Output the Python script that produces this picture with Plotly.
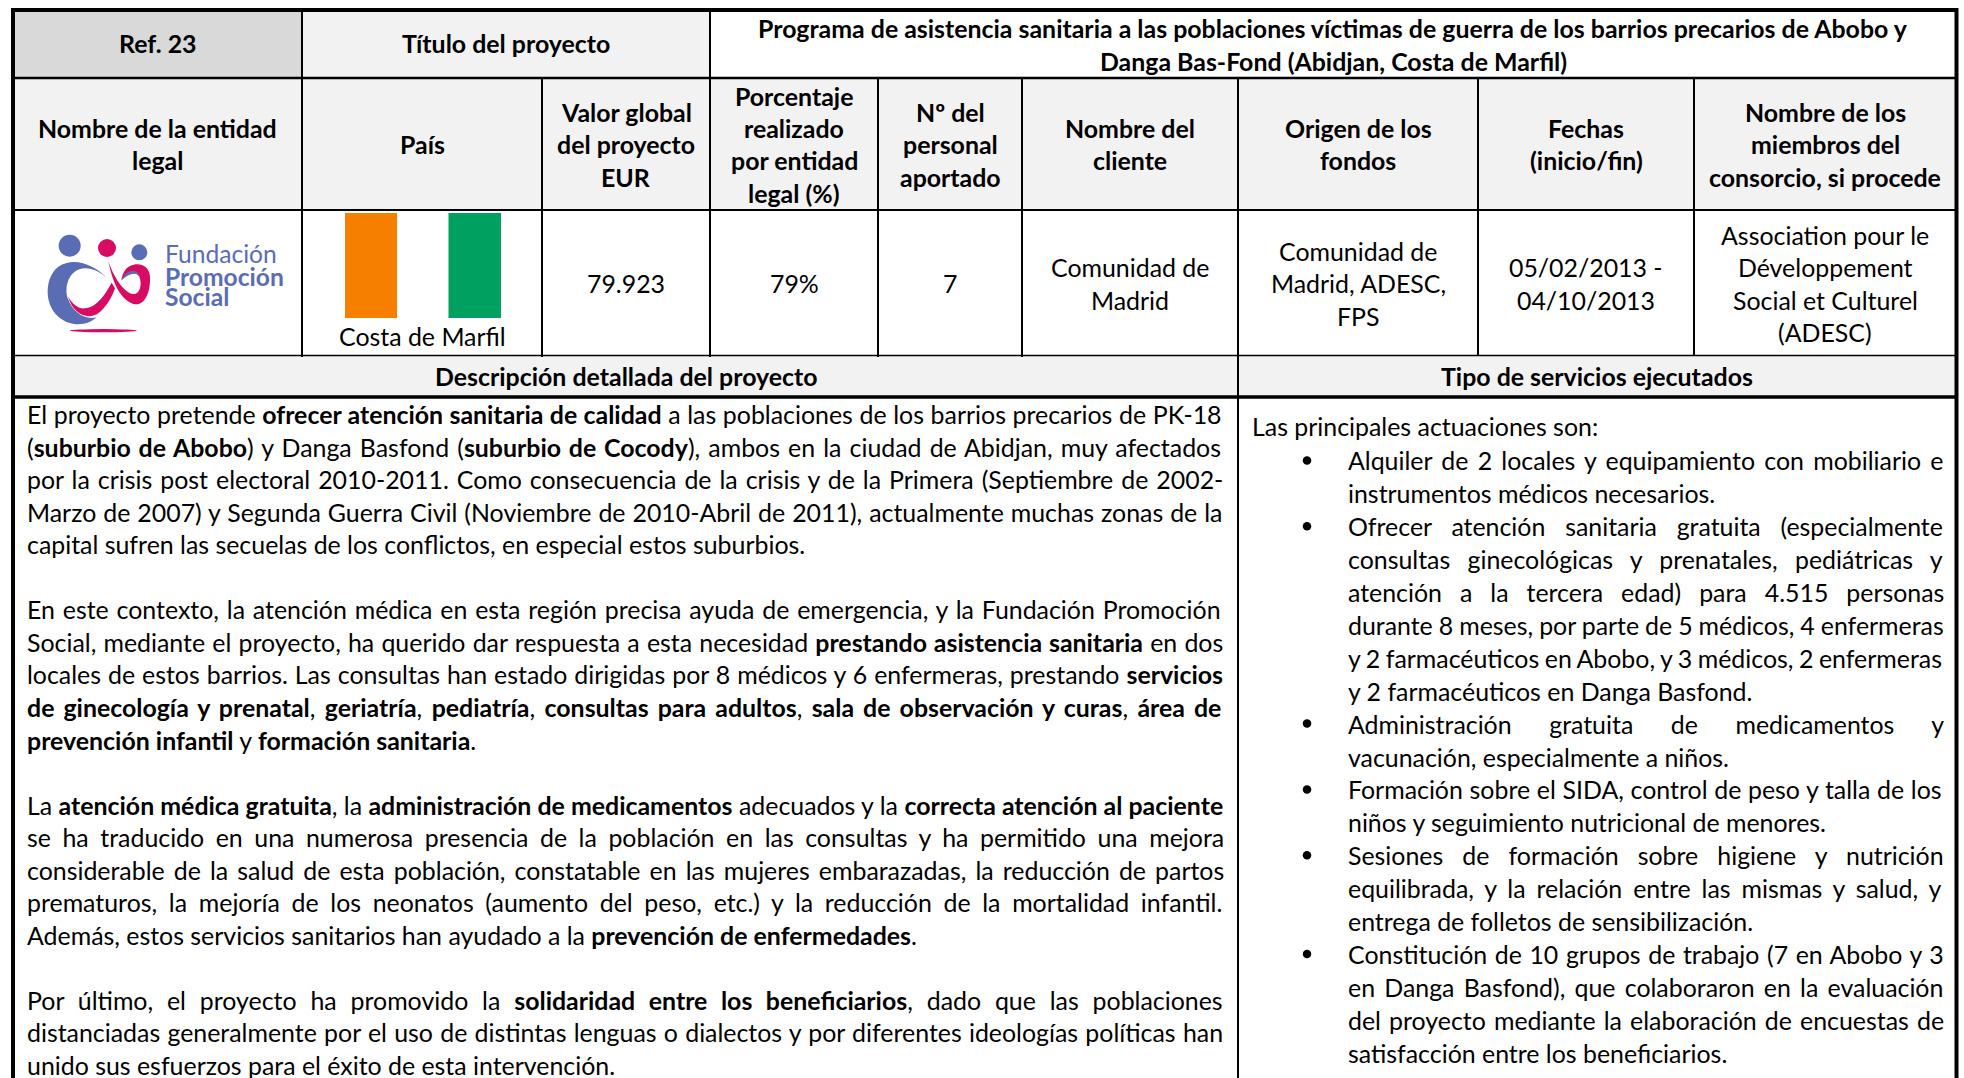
import re, struct, subprocess
import plotly.graph_objects as go

# ---------- content ----------
REF = "Ref. 23"
TITLE_LABEL = "Título del proyecto"
TITLE_LINES = ["Programa de asistencia sanitaria a las poblaciones víctimas de guerra de los barrios precarios de Abobo y",
               "Danga Bas-Fond (Abidjan, Costa de Marfil)"]
HEADERS = [["Nombre de la entidad", "legal"],
           ["País"],
           ["Valor global", "del proyecto", "EUR"],
           ["Porcentaje", "realizado", "por entidad", "legal (%)"],
           ["Nº del", "personal", "aportado"],
           ["Nombre del", "cliente"],
           ["Origen de los", "fondos"],
           ["Fechas", "(inicio/fin)"],
           ["Nombre de los", "miembros del", "consorcio, si procede"]]
VALUES = [[],
          [],
          ["79.923"],
          ["79%"],
          ["7"],
          ["Comunidad de", "Madrid"],
          ["Comunidad de", "Madrid, ADESC,", "FPS"],
          ["05/02/2013 -", "04/10/2013"],
          ["Association pour le", "Développement", "Social et Culturel", "(ADESC)"]]
COUNTRY = "Costa de Marfil"
LOGO_TEXT = ["Fundación", "Promoción", "Social"]
SEC_LEFT = "Descripción detallada del proyecto"
SEC_RIGHT = "Tipo de servicios ejecutados"

# (text, justified) - None marks an empty line
LEFT_BODY = [
    ("El proyecto pretende **ofrecer atención sanitaria de calidad** a las poblaciones de los barrios precarios de PK-18", True),
    ("(**suburbio de Abobo**) y Danga Basfond (**suburbio de Cocody**), ambos en la ciudad de Abidjan, muy afectados", True),
    ("por la crisis post electoral 2010-2011. Como consecuencia de la crisis y de la Primera (Septiembre de 2002-", True),
    ("Marzo de 2007) y Segunda Guerra Civil (Noviembre de 2010-Abril de 2011), actualmente muchas zonas de la", True),
    ("capital sufren las secuelas de los conflictos, en especial estos suburbios.", False),
    None,
    ("En este contexto, la atención médica en esta región precisa ayuda de emergencia, y la Fundación Promoción", True),
    ("Social, mediante el proyecto, ha querido dar respuesta a esta necesidad **prestando asistencia sanitaria** en dos", True),
    ("locales de estos barrios. Las consultas han estado dirigidas por 8 médicos y 6 enfermeras, prestando **servicios**", True),
    ("**de ginecología y prenatal**, **geriatría**, **pediatría**, **consultas para adultos**, **sala de observación y curas**, **área de**", True),
    ("**prevención infantil** y **formación sanitaria**.", False),
    None,
    ("La **atención médica gratuita**, la **administración de medicamentos** adecuados y la **correcta atención al paciente**", True),
    ("se ha traducido en una numerosa presencia de la población en las consultas y ha permitido una mejora", True),
    ("considerable de la salud de esta población, constatable en las mujeres embarazadas, la reducción de partos", True),
    ("prematuros, la mejoría de los neonatos (aumento del peso, etc.) y la reducción de la mortalidad infantil.", True),
    ("Además, estos servicios sanitarios han ayudado a la **prevención de enfermedades**.", False),
    None,
    ("Por último, el proyecto ha promovido la **solidaridad entre los beneficiarios**, dado que las poblaciones", True),
    ("distanciadas generalmente por el uso de distintas lenguas o dialectos y por diferentes ideologías políticas han", True),
    ("unido sus esfuerzos para el éxito de esta intervención.", False),
]
RIGHT_INTRO = "Las principales actuaciones son:"
# (text, justified, starts a bullet)
RIGHT_BODY = [
    ("Alquiler de 2 locales y equipamiento con mobiliario e", True, True),
    ("instrumentos médicos necesarios.", False, False),
    ("Ofrecer atención sanitaria gratuita (especialmente", True, True),
    ("consultas ginecológicas y prenatales, pediátricas y", True, False),
    ("atención a la tercera edad) para 4.515 personas", True, False),
    ("durante 8 meses, por parte de 5 médicos, 4 enfermeras", True, False),
    ("y 2 farmacéuticos en Abobo, y 3 médicos, 2 enfermeras", True, False),
    ("y 2 farmacéuticos en Danga Basfond.", False, False),
    ("Administración gratuita de medicamentos y", True, True),
    ("vacunación, especialmente a niños.", False, False),
    ("Formación sobre el SIDA, control de peso y talla de los", True, True),
    ("niños y seguimiento nutricional de menores.", False, False),
    ("Sesiones de formación sobre higiene y nutrición", True, True),
    ("equilibrada, y la relación entre las mismas y salud, y", True, False),
    ("entrega de folletos de sensibilización.", False, False),
    ("Constitución de 10 grupos de trabajo (7 en Abobo y 3", True, True),
    ("en Danga Basfond), que colaboraron en la evaluación", True, False),
    ("del proyecto mediante la elaboración de encuestas de", True, False),
    ("satisfacción entre los beneficiarios.", False, False),
]

# ---------- styles ----------
FONT = "Lato"
SIZE = 24.9
LOGO_SIZE = 24.6
BLACK = "#000000"
GREY_DARK = "#d9d9d9"
GREY = "#f2f2f2"
ORANGE = "#f77f00"
GREEN = "#00a160"
LOGO_BLUE = "#5a6cb3"
LOGO_RED = "#d80a62"


# ---------- font metrics, used only to justify lines ----------
class Metrics:
    def __init__(self, path):
        d = open(path, "rb").read()
        n = struct.unpack(">H", d[4:6])[0]
        t = {}
        for i in range(n):
            tag, _, off, ln = struct.unpack(">4sIII", d[12 + i * 16:28 + i * 16])
            t[tag.decode()] = off
        self.upem = struct.unpack(">H", d[t["head"] + 18:t["head"] + 20])[0]
        nh = struct.unpack(">H", d[t["hhea"] + 34:t["hhea"] + 36])[0]
        self.adv = [struct.unpack(">H", d[t["hmtx"] + 4 * i:t["hmtx"] + 4 * i + 2])[0] for i in range(nh)]
        self.cmap = {}
        c = t["cmap"]
        for i in range(struct.unpack(">H", d[c + 2:c + 4])[0]):
            pid, eid, sub = struct.unpack(">HHI", d[c + 4 + i * 8:c + 12 + i * 8])
            s = c + sub
            if struct.unpack(">H", d[s:s + 2])[0] == 4 and pid in (0, 3):
                sc = struct.unpack(">H", d[s + 6:s + 8])[0] // 2
                un = lambda o, k: struct.unpack(">%dH" % k, d[o:o + 2 * k])
                ends = un(s + 14, sc)
                starts = un(s + 16 + 2 * sc, sc)
                deltas = un(s + 16 + 4 * sc, sc)
                ro = s + 16 + 6 * sc
                ros = un(ro, sc)
                for k in range(sc):
                    for ch in range(starts[k], min(ends[k], 0xFFFE) + 1):
                        if ch > 0x2FF:
                            continue
                        if ros[k] == 0:
                            g = (ch + deltas[k]) & 0xFFFF
                        else:
                            p = ro + 2 * k + ros[k] + 2 * (ch - starts[k])
                            g = struct.unpack(">H", d[p:p + 2])[0]
                            g = (g + deltas[k]) & 0xFFFF if g else 0
                        self.cmap[ch] = g
                break

    def width(self, text, size):
        total = 0
        for ch in text:
            g = self.cmap.get(ord(ch), 0)
            total += self.adv[min(g, len(self.adv) - 1)]
        return total * size / self.upem


def load(style):
    try:
        p = subprocess.run(["fc-match", "-f", "%{file}", "Lato:" + style], capture_output=True, text=True).stdout
        return Metrics(p)
    except Exception:
        return None


M_REG, M_BOLD = load("regular"), load("bold")


def markup(s):
    return re.sub(r"\*\*(.+?)\*\*", r"<b>\1</b>", s)


def justified(s, left, right):
    """Return markup with word spacing that stretches the line to [left, right]."""
    html = markup(s)
    if not (M_REG and M_BOLD):
        return html
    parts = s.split("**")
    w = sum((M_BOLD if i % 2 else M_REG).width(p, SIZE) for i, p in enumerate(parts))
    gaps = s.count(" ")
    ws = (right - left - w) / gaps
    return '<span style="word-spacing:%.3fpx">%s</span>' % (ws, html)


# ---------- layout ----------
X_COLS = [13, 302, 542, 710, 878, 1022, 1238, 1478, 1694, 1956.5]
X_LEFT_TEXT, X_LEFT_END = 27, 1227
X_INTRO, X_BUL, X_TXT, X_RIGHT_END = 1252, 1307, 1348, 1946
Y_TOP, Y_R1, Y_R2, Y_R3, Y_R4, Y_END = 10, 78, 210, 355.5, 397, 1078
PITCH_L, PITCH_R = 32.55, 32.9

shapes, annots = [], []


def rect(x0, y0, x1, y1, fill):
    shapes.append(dict(type="rect", x0=x0, y0=y0, x1=x1, y1=y1, fillcolor=fill,
                       line_width=0, layer="below"))


def seg(x0, y0, x1, y1, w):
    shapes.append(dict(type="line", x0=x0, y0=y0, x1=x1, y1=y1, line=dict(color=BLACK, width=w), layer="below"))


def text(s, x, y, anchor="center", size=SIZE, color=BLACK):
    annots.append(dict(text=s, x=x, y=y, xref="x", yref="y", xanchor=anchor, yanchor="middle",
                       showarrow=False, borderpad=0, borderwidth=0, align="left" if anchor == "left" else "center",
                       font=dict(family=FONT, size=size, color=color)))


# fills
rect(13, 10, 302, 78, GREY_DARK)
rect(302, 10, 710, 78, GREY)
rect(13, 78, 1956, 210, GREY)
rect(13, 355, 1956, 397, GREY)
# flag
rect(345, 213, 397, 318, ORANGE)
rect(448.5, 213, 501, 318, GREEN)

# grid
seg(13, 10, 1956.5, 10, 4)
seg(13, Y_R1, 1956.5, Y_R1, 2.5)
seg(13, Y_R2, 1956.5, Y_R2, 2)
seg(13, Y_R3, 1956.5, Y_R3, 1.5)
seg(13, Y_R4, 1956.5, Y_R4, 3.5)
seg(13, 8, 13, Y_END, 4)
seg(1956.5, 8, 1956.5, Y_END, 4)
for x in (302, 710):
    seg(x, 10, x, 357, 2)
for x in (542, 878, 1022, 1478, 1694):
    seg(x, Y_R1, x, 357 if x < 1238 else Y_R3, 2)
seg(1238, Y_R1, 1238, Y_END, 2)


def b(s):
    return "<b>%s</b>" % s


# row 1
text(b(REF), (13 + 302) / 2, 43)
text(b(TITLE_LABEL), (302 + 710) / 2, 43)
for s, y in zip(TITLE_LINES, (27.5, 60.5)):
    text(b(s), (710 + 1956) / 2, y)

# rows 2 and 3
Y_BLOCKS_HEAD = {1: [143.5], 2: [127.5, 160], 3: [111.5, 143.5, 176.5], 4: [95.5, 127.5, 160, 192.5]}
Y_BLOCKS_VAL = {1: [283], 2: [267, 300], 3: [251, 283, 316], 4: [235, 267, 300, 332]}
for i in range(9):
    cx = (X_COLS[i] + X_COLS[i + 1]) / 2
    for s, y in zip(HEADERS[i], Y_BLOCKS_HEAD[len(HEADERS[i])]):
        text(b(s), cx, y)
    if VALUES[i]:
        for s, y in zip(VALUES[i], Y_BLOCKS_VAL[len(VALUES[i])]):
            text(s, cx, y)
text(COUNTRY, (302 + 542) / 2, 336)

# row 4
text(b(SEC_LEFT), (13 + 1238) / 2, 376)
text(b(SEC_RIGHT), (1238 + 1956) / 2, 376)

# left body
for k, line in enumerate(LEFT_BODY):
    if line is None:
        continue
    s, just = line
    y = 414 + PITCH_L * k
    text(justified(s, X_LEFT_TEXT, X_LEFT_END) if just else markup(s), X_LEFT_TEXT, y, "left")

# right body
text(RIGHT_INTRO, X_INTRO, 426, "left")
bul_y = []
for k, (s, just, bul) in enumerate(RIGHT_BODY):
    y = 427.5 + PITCH_R * (k + 1)
    text(justified(s, X_TXT, X_RIGHT_END) if just else s, X_TXT, y, "left")
    if bul:
        bul_y.append(y)


# logo, drawn in a local 3x grid of the cell
def lx(v):
    return 30 + v / 3


def ly(v):
    return 220 + v / 3


def path(cmds, fill):
    out = []
    for tok in cmds:
        if isinstance(tok, str):
            out.append(tok)
        else:
            out.append("%.2f,%.2f" % (lx(tok[0]), ly(tok[1])))
    shapes.append(dict(type="path", path=" ".join(out), fillcolor=fill, line_width=0, layer="below"))


def disc(cx, cy, rx, ry, fill):
    shapes.append(dict(type="circle", x0=lx(cx - rx), x1=lx(cx + rx), y0=ly(cy - ry), y1=ly(cy + ry),
                       fillcolor=fill, line_width=0, layer="below"))


disc(119, 77, 33, 33, LOGO_BLUE)
disc(231, 84, 27, 27, LOGO_RED)
disc(328, 97, 24, 24, LOGO_BLUE)
disc(220, 332, 100, 5, LOGO_RED)
# lower-left ribbon
path(["M", (113, 228), "C", (130, 285), (175, 300), (205, 280), "C", (225, 265), (245, 235), (255, 205),
      "L", (245, 188), "C", (225, 225), (200, 262), (165, 265), "C", (145, 268), (125, 250), (113, 228), "Z"], LOGO_RED)
# right loop
path(["M", (235, 122), "C", (245, 175), (265, 235), (310, 252), "C", (345, 260), (362, 215), (360, 170),
      "C", (358, 135), (325, 125), (300, 138), "C", (285, 146), (278, 160), (274, 180),
      "C", (288, 160), (315, 150), (328, 170), "C", (338, 195), (328, 225), (308, 222),
      "C", (280, 215), (250, 170), (235, 122), "Z"], LOGO_RED)
# blue body
path(["M", (235, 178), "C", (190, 130), (130, 110), (85, 140), "C", (45, 170), (40, 250), (85, 290),
      "C", (120, 320), (170, 320), (200, 292), "C", (165, 300), (130, 280), (113, 235),
      "C", (100, 190), (125, 145), (165, 145), "C", (195, 145), (215, 160), (235, 178), "Z"], LOGO_BLUE)
# blue hook
path(["M", (274, 182), "C", (285, 150), (320, 140), (330, 170), "C", (320, 155), (295, 160), (274, 182), "Z"], LOGO_BLUE)
text(LOGO_TEXT[0], lx(404), ly(100), "left", LOGO_SIZE, LOGO_BLUE)
text(b(LOGO_TEXT[1]), lx(404), ly(168), "left", LOGO_SIZE, LOGO_BLUE)
text(b(LOGO_TEXT[2]), lx(404), ly(230), "left", LOGO_SIZE, LOGO_BLUE)

fig = go.Figure(go.Scatter(x=[X_BUL] * len(bul_y), y=bul_y, mode="markers", hoverinfo="skip",
                           marker=dict(color=BLACK, size=8.5), showlegend=False))
fig.update_layout(width=1964, height=1078, margin=dict(l=0, r=0, t=0, b=0), autosize=False,
                  paper_bgcolor="white", plot_bgcolor="white", shapes=shapes, annotations=annots,
                  xaxis=dict(range=[0, 1964], visible=False, fixedrange=True),
                  yaxis=dict(range=[1078, 0], visible=False, fixedrange=True))
fig.write_html("out.html", config={"displayModeBar": False},
               post_script="document.body.style.margin='0';document.documentElement.style.overflow='hidden';")
